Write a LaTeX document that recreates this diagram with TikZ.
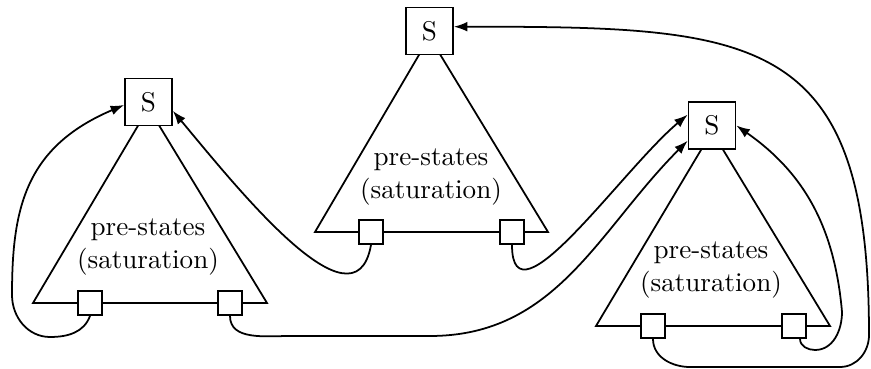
\documentclass[tikz,border=0pt]{standalone}
\usetikzlibrary{arrows.meta}
\begin{document}
\begin{tikzpicture}[x=0.369pt,y=0.369pt,line width=0.65pt,
  sbox/.style={draw,fill=white,minimum size=17.3pt,inner sep=0pt},
  pbox/.style={draw,fill=white,minimum size=8.9pt,inner sep=0pt},
  lbl/.style={align=center,inner sep=0pt},
  link/.style={-{Latex[length=5pt,width=3.6pt]}}]
\useasboundingbox (0,0) rectangle (871,-369);
% triangles
\draw (148.5,-108) -- (33,-303) -- (267,-303) -- cycle;
\draw (429.5,-37) -- (315,-232) -- (548,-232) -- cycle;
\draw (712,-131.5) -- (596,-326) -- (830,-326) -- cycle;
% labels
\node[lbl] (Lt) at (148,-247) {pre-states\\(saturation)};
\node[lbl] (Mt) at (431,-177) {pre-states\\(saturation)};
\node[lbl] (Rt) at (711,-270) {pre-states\\(saturation)};
% S boxes
\node[sbox] (LS) at (148.5,-102) {S};
\node[sbox] (MS) at (429.5,-31) {S};
\node[sbox] (RS) at (712,-125.5) {S};
% port boxes
\node[pbox] (L1) at (90,-303) {};
\node[pbox] (L2) at (230,-303) {};
\node[pbox] (M1) at (371,-232) {};
\node[pbox] (M2) at (512,-232) {};
\node[pbox] (R1) at (653,-326) {};
\node[pbox] (R2) at (794,-326) {};
% connectors
\draw[link] (L1.south) to[out=-110,in=0] (50,-337)
  to[out=180,in=-90] (12,-295)
  to[out=90,in=203,in looseness=1.25] (LS.187);
\draw[link] (M1.south) to[out=-100,in=-50] (LS.-20);
\draw[link] (M2.south) to[out=-90,in=220] (RS.156);
\draw[link] (L2.south) to[out=-90,in=180] (290,-336) -- (430,-336)
  to[out=0,in=225] (RS.212);
\draw[link] (R1.south) to[out=-90,in=180] (690,-367) -- (840,-367)
  to[out=0,in=-90] (869,-335) to[out=90,in=0,looseness=1.5] (MS.10);
\draw[link] (R2.-65) to[out=-90,in=180] (815,-350)
  to[out=0,in=-90] (842,-312) to[out=95,in=-35] (RS.east);
\end{tikzpicture}
\end{document}
